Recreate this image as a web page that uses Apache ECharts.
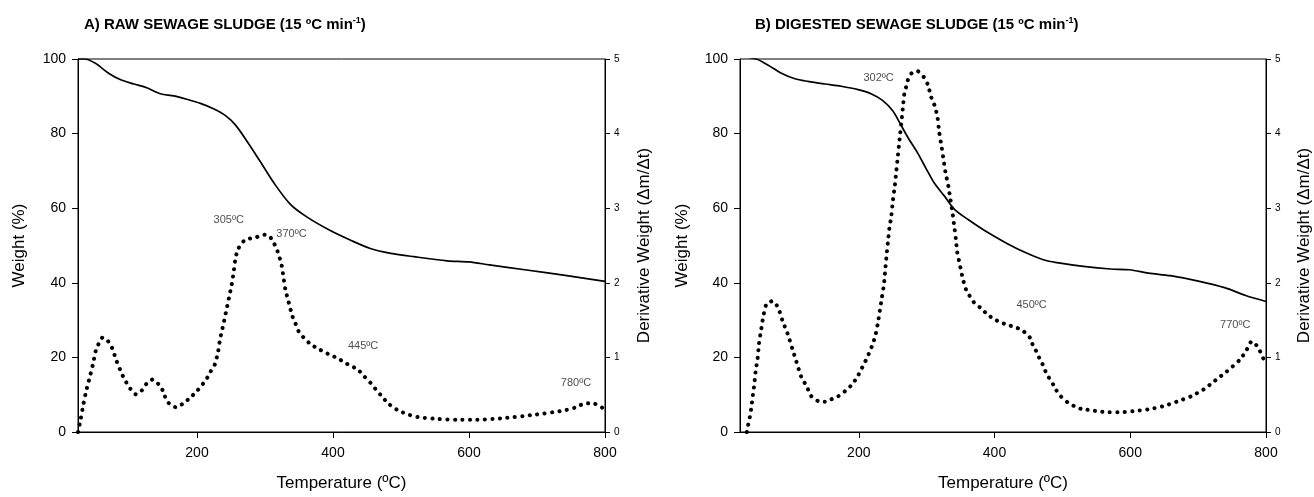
<!DOCTYPE html>
<html>
<head>
<meta charset="utf-8">
<script src="https://cdn.jsdelivr.net/npm/echarts@6/dist/echarts.min.js"></script>
<style>
html,body{margin:0;padding:0;background:#fff;}
#chart{width:1314px;height:497px;}
</style>
</head>
<body>
<div id="chart"></div>
<script>
// ---------- Panel A: raw sewage sludge ----------
const tempA_TG = [25, 35, 50, 70, 87, 107, 126, 146, 166, 185, 205, 225, 242, 257, 274, 293, 313, 337, 362, 396, 426, 455, 485, 519, 568, 600, 630, 682, 744, 800];
const weightA  = [100, 100, 98.9, 96.2, 94.5, 93.3, 92.3, 90.7, 90.1, 89.2, 88.1, 86.6, 84.8, 82.2, 77.8, 72.5, 66.8, 61.1, 57.6, 54.0, 51.4, 49.2, 47.9, 47.0, 45.9, 45.6, 44.8, 43.5, 41.9, 40.4];

const tempA_DTG = [25, 29, 33, 37, 42, 47, 51, 55, 61, 69, 75, 82, 90, 96, 102, 110, 119, 126, 135, 144,
  150, 154, 161, 170, 180, 190, 199, 207, 215, 220, 226, 231, 234, 239, 243, 247, 251, 254, 257, 261,
  266, 276, 286, 296, 306, 312, 317, 320, 324, 327, 330, 335, 340, 345, 350, 357, 366, 377, 387, 396,
  407, 417, 427, 438, 446, 455, 464, 472, 481, 491, 502, 512, 521, 534, 553, 583, 612, 651, 695, 738,
  757, 769, 783, 791, 800];
const derivA = [0, 0.175, 0.375, 0.55, 0.725, 0.91, 1.085, 1.175, 1.265, 1.22, 1.13, 0.945, 0.77, 0.665, 0.58, 0.505, 0.56, 0.65, 0.705, 0.635,
  0.55, 0.45, 0.36, 0.33, 0.385, 0.46, 0.54, 0.625, 0.725, 0.81, 0.9, 1.075, 1.25, 1.45, 1.625, 1.8, 1.975, 2.15, 2.35, 2.46,
  2.54, 2.59, 2.605, 2.645, 2.63, 2.55, 2.46, 2.375, 2.26, 2.085, 1.91, 1.735, 1.56, 1.45, 1.34, 1.265, 1.185, 1.12, 1.075, 1.03,
  0.99, 0.93, 0.885, 0.825, 0.745, 0.66, 0.56, 0.475, 0.385, 0.315, 0.265, 0.23, 0.205, 0.19, 0.175, 0.165, 0.165, 0.185, 0.23, 0.285,
  0.33, 0.38, 0.385, 0.35, 0.305];

const peakNamesA = ['305ºC', '370ºC', '445ºC', '780ºC'];
const peakTempA  = [246.7, 339, 444.2, 757.3];
const peakDerivA = [2.84, 2.66, 1.15, 0.66];

// ---------- Panel B: digested sewage sludge ----------
const tempB_TG = [25, 49, 66, 86, 106, 125, 150, 174, 199, 218, 235, 250, 260, 272, 287, 299, 311, 326, 341, 360, 389, 419, 448, 473, 492, 531, 571, 599, 627, 659, 702, 739, 770, 800];
const weightB  = [100.8, 100, 98.4, 96.2, 94.7, 94, 93.3, 92.7, 91.8, 90.7, 88.9, 86.1, 83, 79.1, 74.7, 70.7, 66.8, 63.3, 59.7, 57.1, 53.6, 50.5, 47.9, 46.1, 45.4, 44.4, 43.7, 43.5, 42.6, 41.9, 40.4, 38.7, 36.6, 35];

const tempB_DTG = [35, 37, 39.5, 42, 43.5, 46, 48, 51, 53, 56, 59, 64, 73, 81, 87.5, 95, 102, 108, 115, 123,
  130, 140, 150, 160, 170, 180, 190, 197, 202, 207, 212, 216, 220, 224, 228, 231, 234, 237, 239, 241,
  243, 245, 248, 250.5, 253, 255, 257, 259, 261, 263, 265, 267, 270, 273, 278, 287, 297, 302, 307, 312,
  316, 318.5, 322, 325, 328, 332, 335, 338, 340.5, 343, 345, 349, 353, 358, 365, 370, 380, 389, 399, 409,
  421, 431, 441, 451, 455.5, 460.5, 465, 470, 474, 479, 485, 491, 498, 508, 518, 529, 541, 553, 568, 588,
  610, 628, 650, 671, 690, 708, 721, 730, 742, 751, 761, 770, 779, 788, 797];
const derivB = [0, 0.095, 0.2, 0.35, 0.46, 0.635, 0.81, 0.99, 1.185, 1.36, 1.535, 1.715, 1.755, 1.67, 1.495, 1.32, 1.12, 0.945, 0.745, 0.615,
  0.48, 0.415, 0.405, 0.44, 0.48, 0.55, 0.635, 0.725, 0.81, 0.9, 0.99, 1.075, 1.165, 1.275, 1.45, 1.625, 1.8, 1.975, 2.175, 2.375,
  2.55, 2.725, 2.9, 3.12, 3.295, 3.47, 3.645, 3.825, 4.0, 4.175, 4.35, 4.525, 4.635, 4.735, 4.81, 4.835, 4.745, 4.65, 4.48, 4.37,
  4.22, 4.02, 3.825, 3.645, 3.47, 3.295, 3.12, 2.945, 2.77, 2.59, 2.415, 2.24, 2.065, 1.91, 1.8, 1.735, 1.66, 1.58, 1.515, 1.47,
  1.43, 1.405, 1.36, 1.285, 1.185, 1.1, 1.01, 0.925, 0.835, 0.745, 0.66, 0.56, 0.475, 0.395, 0.345, 0.305, 0.295, 0.275, 0.265, 0.265,
  0.285, 0.305, 0.35, 0.415, 0.48, 0.57, 0.66, 0.725, 0.81, 0.88, 0.965, 1.075, 1.215, 1.14, 0.965];

const peakNamesB = ['302ºC', '450ºC', '770ºC'];
const peakTempB  = [229.2, 454.6, 754.6];
const peakDerivB = [4.75, 1.7, 1.43];

// ---------- axis ticks ----------
const tempTicks = [200, 400, 600, 800];
const tempMin = 25, tempMax = 800;
const weightMax = 100, weightStep = 20;
const derivMax = 5, derivStep = 1;

const titleA = 'A) RAW SEWAGE SLUDGE (15 ºC min';
const titleB = 'B) DIGESTED SEWAGE SLUDGE (15 ºC min';

// ---------- build ----------
const zip = (xs, ys) => xs.map((x, i) => [x, ys[i]]);
const FONT = 'Liberation Sans, Arial, sans-serif';

function xAxisFor(g) {
  return {
    type: 'value', gridIndex: g, min: tempMin, max: tempMax,
    name: 'Temperature (ºC)', nameLocation: 'middle', nameGap: 43,
    nameTextStyle: { fontSize: 17, color: '#000', fontFamily: FONT },
    axisLine: { show: true, onZero: false, lineStyle: { color: '#000', width: 1 } },
    axisTick: { show: true, length: 6, customValues: tempTicks, lineStyle: { color: '#000' } },
    axisLabel: { customValues: tempTicks, fontSize: 14, color: '#000', margin: 14, fontFamily: FONT },
    splitLine: { show: false }
  };
}
function yLeft(g, gap) {
  return {
    type: 'value', gridIndex: g, min: 0, max: weightMax, interval: weightStep, position: 'left',
    name: 'Weight (%)', nameLocation: 'middle', nameGap: gap, nameRotate: 90,
    nameTextStyle: { fontSize: 17, color: '#000', fontFamily: FONT },
    axisLine: { show: true, lineStyle: { color: '#000', width: 1 } },
    axisTick: { show: true, length: 6, lineStyle: { color: '#000' } },
    axisLabel: { fontSize: 14, color: '#000', margin: 12, fontFamily: FONT },
    splitLine: { show: false }
  };
}
function yRight(g, gap) {
  return {
    type: 'value', gridIndex: g, min: 0, max: derivMax, interval: derivStep, position: 'right',
    name: 'Derivative Weight (Δm/Δt)', nameLocation: 'middle', nameGap: gap, nameRotate: 90,
    nameTextStyle: { fontSize: 17, color: '#000', fontFamily: FONT },
    axisLine: { show: true, lineStyle: { color: '#000', width: 1 } },
    axisTick: { show: true, length: 5, lineStyle: { color: '#000' } },
    axisLabel: { fontSize: 10, color: '#000', margin: 9, fontFamily: FONT },
    splitLine: { show: false }
  };
}
function tgSeries(xi, yi, xs, ys) {
  return { type: 'line', xAxisIndex: xi, yAxisIndex: yi, data: zip(xs, ys), showSymbol: false, smooth: 0.3,
    lineStyle: { color: '#000', width: 1.7 }, clip: true, z: 3 };
}
function dtgSeries(xi, yi, xs, ys) {
  return { type: 'line', xAxisIndex: xi, yAxisIndex: yi, data: zip(xs, ys), showSymbol: false, smooth: 0.2,
    lineStyle: { color: '#000', width: 4, type: [0.1, 7.4], cap: 'round' }, clip: true, z: 2 };
}
function labelSeries(xi, yi, names, xs, ys) {
  return { type: 'scatter', xAxisIndex: xi, yAxisIndex: yi, symbolSize: 0,
    data: names.map((n, i) => ({ name: n, value: [xs[i], ys[i]] })),
    label: { show: true, position: 'inside', formatter: '{b}', fontSize: 11, color: '#222', fontFamily: FONT }, z: 5 };
}
function titleFor(txt, left) {
  return {
    text: '{a|' + txt + '}{s|-1}{a|)}', left: left, top: 15, padding: 0,
    textStyle: {
      fontFamily: FONT,
      rich: {
        a: { fontSize: 15, fontWeight: 'bold', color: '#000', fontFamily: FONT, verticalAlign: 'bottom', lineHeight: 17 },
        s: { fontSize: 9, fontWeight: 'bold', color: '#000', fontFamily: FONT, verticalAlign: 'bottom', lineHeight: 17, padding: [0, 0, 7, 0] }
      }
    }
  };
}

const chart = echarts.init(document.getElementById('chart'), null, { renderer: 'canvas' });
chart.setOption({
  animation: false,
  backgroundColor: '#fff',
  title: [titleFor(titleA, 84), titleFor(titleB, 755)],
  grid: [
    { left: 78, top: 59, width: 527, height: 379, show: true, borderColor: '#000', borderWidth: 1, containLabel: false },
    { left: 740, top: 59, width: 527, height: 379, show: true, borderColor: '#000', borderWidth: 1, containLabel: false }
  ],
  xAxis: [xAxisFor(0), xAxisFor(1)],
  yAxis: [yLeft(0, 50), yRight(0, 31), yLeft(1, 49), yRight(1, 30)],
  series: [
    tgSeries(0, 0, tempA_TG, weightA),
    dtgSeries(0, 1, tempA_DTG, derivA),
    labelSeries(0, 1, peakNamesA, peakTempA, peakDerivA),
    tgSeries(1, 2, tempB_TG, weightB),
    dtgSeries(1, 3, tempB_DTG, derivB),
    labelSeries(1, 3, peakNamesB, peakTempB, peakDerivB)
  ]
});
</script>
</body>
</html>
